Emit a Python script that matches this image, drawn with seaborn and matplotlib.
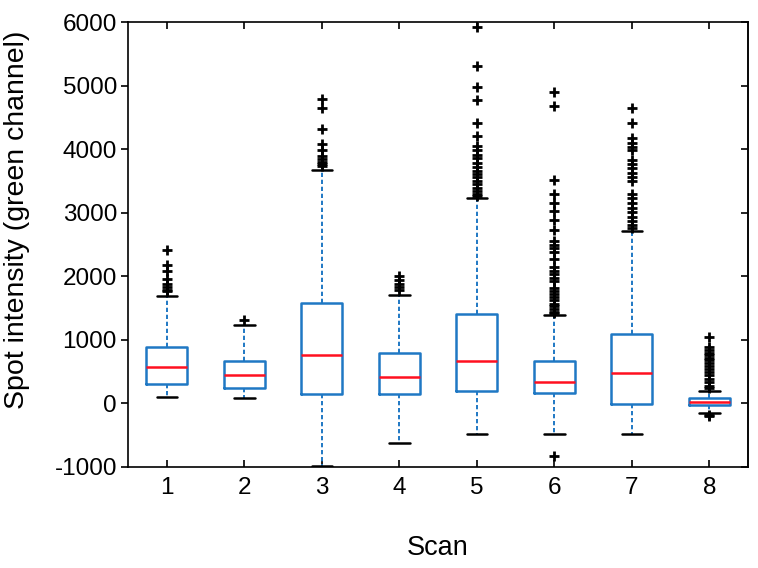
import numpy as np
import pandas as pd
import matplotlib.pyplot as plt
import seaborn as sns

# box statistics (spot intensity, green channel)
scans = ["1", "2", "3", "4", "5", "6", "7", "8"]
lower_whisker = [104, 83, -985, -627, -485, -485, -485, -150]
q1 = [304, 235, 146, 146, 188, 162, -15, -22]
median = [566, 451, 761, 409, 672, 330, 478, 14]
q3 = [882, 661, 1576, 793, 1410, 661, 1090, 77]
upper_whisker = [1697, 1240, 3669, 1713, 3230, 1397, 2720, 199]
outliers_high = [
    [2407, 2170, 2090, 1960, 1880, 1830, 1790, 1765],
    [1310],
    [4784, 4642, 4316, 4077, 3983, 3900, 3850, 3800, 3760, 3735],
    [1997, 1945, 1880, 1830, 1790],
    [5920, 5309, 4973, 4773, 4415, 4210, 4050, 3990, 3910, 3860, 3790, 3720,
     3660, 3610, 3560, 3500, 3450, 3390, 3340, 3300, 3265],
    [4894, 4678, 3522, 3301, 3153, 3027, 2880, 2733, 2560, 2500, 2440, 2380,
     2280, 2140, 2090, 2030, 1970, 1930, 1820, 1770, 1720, 1670, 1620, 1570,
     1530, 1480, 1440, 1420],
    [4651, 4405, 4169, 4100, 4040, 3980, 3825, 3760, 3700, 3630, 3560, 3500,
     3300, 3230, 3160, 3080, 3010, 2940, 2870, 2810, 2760],
    [1050, 880, 840, 800, 760, 720, 680, 640, 590, 540, 490, 440, 390, 330,
     280, 235],
]
outliers_low = [[], [], [], [], [], [-826], [], [-185, -195]]

# rebuild a sample per scan whose quartiles and whiskers match the stats above
m = 60
rows = []
for i, s in enumerate(scans):
    lo, hi = outliers_low[i], outliers_high[i]
    vals = (lo + [lower_whisker[i]] + [q1[i]] * (m - len(lo)) + [median[i]] * m
            + [q3[i]] * m + [q3[i]] * (m - len(hi) - 1) + [upper_whisker[i]] + hi)
    rows += [(s, v) for v in vals]
df = pd.DataFrame(rows, columns=["scan", "value"])

sns.set_style("ticks")
plt.rcParams['font.family'] = ['Liberation Sans', 'DejaVu Sans']
plt.rcParams['axes.unicode_minus'] = False
plt.rcParams['text.color'] = 'black'
plt.rcParams['axes.labelcolor'] = 'black'
plt.rcParams['xtick.color'] = 'black'
plt.rcParams['ytick.color'] = 'black'

box_blue = '#1f78c4'
fig = plt.figure(figsize=(7.58, 5.68), dpi=100)
ax = fig.add_axes([0.169, 0.178, 0.818, 0.783])

sns.boxplot(data=df, x="scan", y="value", order=scans, fill=False, color=box_blue,
            width=0.53, linewidth=1.8, whis=1.5, ax=ax,
            boxprops=dict(color=box_blue, linewidth=1.8),
            medianprops=dict(color='#ff1020', linewidth=1.8),
            whiskerprops=dict(color=box_blue, linestyle=(0, (2.2, 1.4)), linewidth=1.4),
            capprops=dict(color='black', linewidth=1.8),
            flierprops=dict(marker='+', markersize=7.5, markeredgecolor='black',
                            markeredgewidth=2.0))

ax.set_xlim(-0.5, 7.5)
ax.set_ylim(-1000, 6000)
ax.set_yticks(range(-1000, 6001, 1000))
for sp in ax.spines.values():
    sp.set_color('black')
    sp.set_linewidth(1.2)
ax.tick_params(axis='x', direction='in', top=True, length=5, width=1.2,
               labelsize=17.5, pad=7)
ax.tick_params(axis='y', direction='out', length=5, width=1.2, labelsize=17.5, pad=3)
sec = ax.secondary_yaxis('right')
sec.set_yticks(range(-1000, 6001, 1000))
sec.tick_params(direction='in', length=5, width=1.2, labelright=False)
sec.spines['right'].set_linewidth(1.2)

ax.set_xlabel("Scan", fontsize=19.5, labelpad=26)
ax.set_ylabel("Spot intensity (green channel)", fontsize=20.5)
ax.yaxis.set_label_coords(-0.158, 0.555)

fig.savefig("out.png", dpi=100)
